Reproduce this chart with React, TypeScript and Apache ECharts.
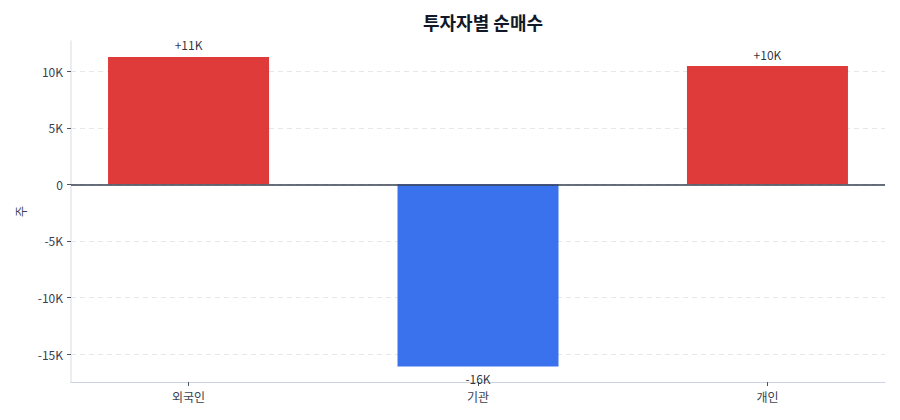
import * as echarts from "echarts";
import { useEffect, useRef } from "react";

/** 투자자 구분 */
const INVESTORS = ["외국인", "기관", "개인"];
/** 순매수 (주) */
const NET_BUY = [11260, -16100, 10450];
/** y 눈금 */
const Y_TICKS = [-15000, -10000, -5000, 0, 5000, 10000];
/** 축 범위 */
const Y_MIN = -17470;
const Y_MAX = 12670;
const X_MIN = -0.406;
const X_MAX = 2.406;

const UP_COLOR = "#dc2626";
const DOWN_COLOR = "#2563eb";
const FONT = '"Noto Sans CJK KR", "Noto Sans", sans-serif';

function fmtK(v: number): string {
  if (v === 0) return "0";
  return `${Math.round(v / 1000)}K`;
}

function fmtSigned(v: number): string {
  const k = Math.round(v / 1000);
  return `${k > 0 ? "+" : ""}${k}K`;
}

function buildOption(): echarts.EChartsOption {
  const idx = INVESTORS.map((_, i) => i);
  return {
    animation: false,
    textStyle: { fontFamily: FONT },
    title: {
      text: "투자자별 순매수",
      left: 478,
      textAlign: "center",
      top: 8,
      textStyle: { fontSize: 18, fontWeight: "bold", color: "#111827", fontFamily: FONT },
    },
    grid: { left: 71, right: 15, top: 41, bottom: 38 },
    xAxis: {
      type: "value",
      min: X_MIN,
      max: X_MAX,
      axisLine: { show: true, onZero: false, lineStyle: { color: "#cbd5e1" } },
      axisTick: { show: true, customValues: idx, length: 4, lineStyle: { color: "#4b5563" } },
      axisLabel: {
        customValues: idx,
        color: "#374151",
        fontSize: 12,
        margin: 8,
        formatter: (v: number) => INVESTORS[Math.round(v)] ?? "",
      },
      splitLine: { show: false },
    },
    yAxis: {
      type: "value",
      min: Y_MIN,
      max: Y_MAX,
      name: "주",
      nameLocation: "middle",
      nameGap: 45,
      nameTextStyle: { color: "#374151", fontSize: 12 },
      axisLine: { show: true, onZero: false, lineStyle: { color: "#e5e7eb", width: 1.5 } },
      axisTick: { show: true, customValues: Y_TICKS, length: 4, lineStyle: { color: "#4b5563" } },
      axisLabel: {
        customValues: Y_TICKS,
        color: "#374151",
        fontSize: 12,
        formatter: (v: number) => fmtK(v),
      },
      splitLine: { lineStyle: { color: "#e5e7eb", type: [5, 4] } },
    },
    series: [
      {
        type: "bar",
        barWidth: 161,
        data: NET_BUY.map((v, i) => ({
          value: [i, v],
          itemStyle: { color: v >= 0 ? UP_COLOR : DOWN_COLOR, opacity: 0.9 },
          label: { position: v >= 0 ? "top" : "bottom" },
        })),
        label: {
          show: true,
          color: "#111827",
          fontSize: 12,
          distance: 6,
          formatter: (p: any) => fmtSigned((p.value as number[])[1]),
        },
        markLine: {
          silent: true,
          symbol: "none",
          label: { show: false },
          lineStyle: { color: "#374151", width: 1.5, type: "solid" },
          data: [{ yAxis: 0 }],
        },
      },
    ],
  };
}

export default function App() {
  const ref = useRef<HTMLDivElement | null>(null);

  useEffect(() => {
    document.body.style.margin = "0";
    const el = ref.current;
    if (!el) return undefined;
    const chart = echarts.init(el, undefined, { renderer: "svg" });
    chart.setOption(buildOption());
    return () => {
      chart.dispose();
    };
  }, []);

  return <div ref={ref} style={{ width: 900, height: 420 }} />;
}
